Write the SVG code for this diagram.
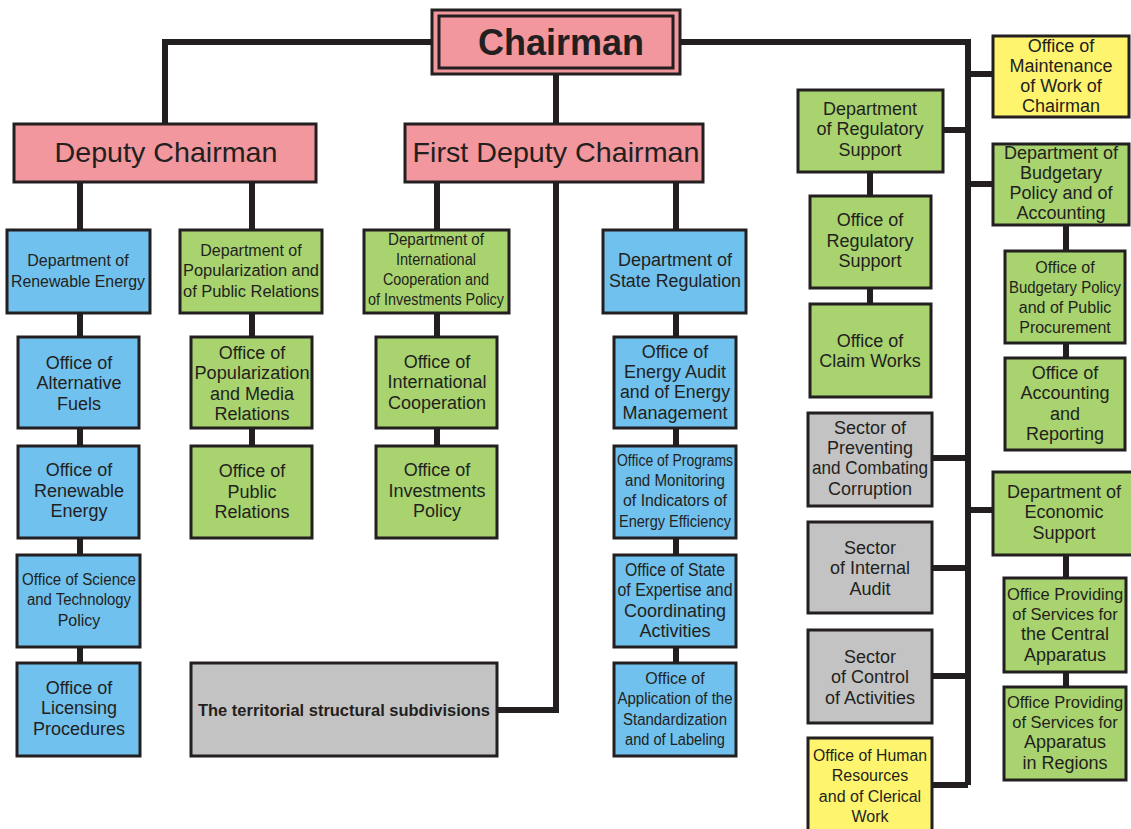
<svg xmlns="http://www.w3.org/2000/svg" width="1131" height="829" viewBox="0 0 1131 829">
<style>
.bx{stroke:#231F20;stroke-width:3}
.pk{fill:#F1979D}.bl{fill:#70C1EE}.gr{fill:#A8D36E}.ye{fill:#FFF46E}.gy{fill:#C3C3C3}
.c{fill:none;stroke:#231F20;stroke-width:6}
text{font-family:"Liberation Sans",Arial,sans-serif;fill:#231F20;text-anchor:middle;font-size:18px}
.n{font-size:16px}
.s{font-size:16.5px}
</style>
<rect width="1131" height="829" fill="#fff"/>
<g id="connectors">
<path class="c" d="M432,42 H165 V124"/>
<path class="c" d="M680,42 H968 V785"/>
<path class="c" d="M556,75 V124"/>
<path class="c" d="M80,182 V663"/>
<path class="c" d="M252,182 V446"/>
<path class="c" d="M437,182 V446"/>
<path class="c" d="M676,182 V663"/>
<path class="c" d="M556,182 V710 H497"/>
<path class="c" d="M968,74 H993 M943,130 H968 M968,184 H993 M932,458 H968 M932,568 H968 M932,676 H968 M932,785 H968 M968,510 H993"/>
<path class="c" d="M870,172 V304"/>
<path class="c" d="M1066,225 V358"/>
<path class="c" d="M1066,555 V687"/>
</g>
<g id="chairman">
<rect class="bx pk" x="432" y="10" width="248" height="64"/>
<rect class="bx pk" x="439" y="16" width="234" height="52"/>
<text x="561" y="55" style="font-size:36px;font-weight:bold">Chairman</text>
</g>
<g id="deputy">
<rect class="bx pk" x="14" y="124" width="302" height="58"/>
<text x="166" y="162" style="font-size:28px" textLength="223" lengthAdjust="spacingAndGlyphs">Deputy Chairman</text>
</g>
<g id="first-deputy">
<rect class="bx pk" x="405" y="124" width="298" height="58"/>
<text x="556" y="162" style="font-size:28px" textLength="287" lengthAdjust="spacingAndGlyphs">First Deputy Chairman</text>
</g>
<g id="dept-renewable">
<rect class="bx bl" x="7" y="230" width="143" height="83"/>
<text class="n"><tspan x="78" y="266">Department of</tspan><tspan x="78" y="287" textLength="134" lengthAdjust="spacingAndGlyphs">Renewable Energy</tspan></text>
</g>
<g id="office-alt-fuels">
<rect class="bx bl" x="18" y="337" width="121" height="91"/>
<text><tspan x="79" y="369">Office of</tspan><tspan x="79" y="389">Alternative</tspan><tspan x="79" y="410">Fuels</tspan></text>
</g>
<g id="office-renewable">
<rect class="bx bl" x="18" y="446" width="121" height="92"/>
<text><tspan x="79" y="476">Office of</tspan><tspan x="79" y="497">Renewable</tspan><tspan x="79" y="517">Energy</tspan></text>
</g>
<g id="office-science">
<rect class="bx bl" x="17" y="555" width="123" height="92"/>
<text class="n"><tspan x="79" y="585" textLength="114" lengthAdjust="spacingAndGlyphs">Office of Science</tspan><tspan x="79" y="605" textLength="104" lengthAdjust="spacingAndGlyphs">and Technology</tspan><tspan x="79" y="626">Policy</tspan></text>
</g>
<g id="office-licensing">
<rect class="bx bl" x="17" y="663" width="123" height="93"/>
<text><tspan x="79" y="694">Office of</tspan><tspan x="79" y="714">Licensing</tspan><tspan x="79" y="735">Procedures</tspan></text>
</g>
<g id="dept-popularization">
<rect class="bx gr" x="180" y="230" width="142" height="83"/>
<text class="n"><tspan x="251" y="256">Department of</tspan><tspan x="251" y="276" textLength="136" lengthAdjust="spacingAndGlyphs">Popularization and</tspan><tspan x="251" y="297" textLength="136" lengthAdjust="spacingAndGlyphs">of Public Relations</tspan></text>
</g>
<g id="office-popularization">
<rect class="bx gr" x="191" y="337" width="121" height="91"/>
<text><tspan x="252" y="359">Office of</tspan><tspan x="252" y="379" textLength="115" lengthAdjust="spacingAndGlyphs">Popularization</tspan><tspan x="252" y="400">and Media</tspan><tspan x="252" y="420">Relations</tspan></text>
</g>
<g id="office-public-relations">
<rect class="bx gr" x="191" y="446" width="121" height="92"/>
<text><tspan x="252" y="477">Office of</tspan><tspan x="252" y="498">Public</tspan><tspan x="252" y="518">Relations</tspan></text>
</g>
<g id="dept-international">
<rect class="bx gr" x="364" y="230" width="145" height="83"/>
<text class="n"><tspan x="436" y="245" textLength="96" lengthAdjust="spacingAndGlyphs">Department  of</tspan><tspan x="436" y="265" textLength="80" lengthAdjust="spacingAndGlyphs">International</tspan><tspan x="436" y="285" textLength="106" lengthAdjust="spacingAndGlyphs">Cooperation and</tspan><tspan x="436" y="305" textLength="136" lengthAdjust="spacingAndGlyphs">of Investments Policy</tspan></text>
</g>
<g id="office-intl-coop">
<rect class="bx gr" x="376" y="337" width="121" height="91"/>
<text><tspan x="437" y="368">Office of</tspan><tspan x="437" y="388">International</tspan><tspan x="437" y="409">Cooperation</tspan></text>
</g>
<g id="office-investments">
<rect class="bx gr" x="376" y="446" width="121" height="92"/>
<text><tspan x="437" y="476">Office of</tspan><tspan x="437" y="497">Investments</tspan><tspan x="437" y="517">Policy</tspan></text>
</g>
<g id="territorial">
<rect class="bx gy" x="191" y="663" width="306" height="93"/>
<text x="344" y="716" style="font-size:16px;font-weight:bold" textLength="292" lengthAdjust="spacingAndGlyphs">The territorial structural subdivisions</text>
</g>
<g id="dept-state-regulation">
<rect class="bx bl" x="603" y="230" width="143" height="83"/>
<text><tspan x="675" y="266">Department of</tspan><tspan x="675" y="287" textLength="132" lengthAdjust="spacingAndGlyphs">State Regulation</tspan></text>
</g>
<g id="office-energy-audit">
<rect class="bx bl" x="614" y="337" width="122" height="91"/>
<text><tspan x="675" y="358">Office of</tspan><tspan x="675" y="378">Energy Audit</tspan><tspan x="675" y="398" textLength="110" lengthAdjust="spacingAndGlyphs">and of Energy</tspan><tspan x="675" y="419">Management</tspan></text>
</g>
<g id="office-programs">
<rect class="bx bl" x="614" y="446" width="122" height="92"/>
<text class="n"><tspan x="675" y="466" textLength="116" lengthAdjust="spacingAndGlyphs">Office of Programs</tspan><tspan x="675" y="486" textLength="100" lengthAdjust="spacingAndGlyphs">and Monitoring</tspan><tspan x="675" y="506" textLength="104" lengthAdjust="spacingAndGlyphs">of Indicators of</tspan><tspan x="675" y="527" textLength="112" lengthAdjust="spacingAndGlyphs">Energy Efficiency</tspan></text>
</g>
<g id="office-state-expertise">
<rect class="bx bl" x="614" y="555" width="122" height="92"/>
<text><tspan x="675" y="576" textLength="100" lengthAdjust="spacingAndGlyphs">Office of State</tspan><tspan x="675" y="596" textLength="115" lengthAdjust="spacingAndGlyphs">of Expertise and</tspan><tspan x="675" y="617">Coordinating</tspan><tspan x="675" y="637">Activities</tspan></text>
</g>
<g id="office-application">
<rect class="bx bl" x="614" y="663" width="122" height="93"/>
<text class="n"><tspan x="675" y="684">Office of</tspan><tspan x="675" y="704" textLength="115" lengthAdjust="spacingAndGlyphs">Application of the</tspan><tspan x="675" y="725" textLength="104" lengthAdjust="spacingAndGlyphs">Standardization</tspan><tspan x="675" y="745" textLength="100" lengthAdjust="spacingAndGlyphs">and of Labeling</tspan></text>
</g>
<g id="dept-regulatory-support">
<rect class="bx gr" x="798" y="90" width="145" height="82"/>
<text><tspan x="870" y="115">Department</tspan><tspan x="870" y="135">of Regulatory</tspan><tspan x="870" y="156">Support</tspan></text>
</g>
<g id="office-regulatory-support">
<rect class="bx gr" x="810" y="196" width="121" height="92"/>
<text><tspan x="870" y="226">Office  of</tspan><tspan x="870" y="247">Regulatory</tspan><tspan x="870" y="267">Support</tspan></text>
</g>
<g id="office-claim-works">
<rect class="bx gr" x="810" y="304" width="121" height="93"/>
<text><tspan x="870" y="347">Office of</tspan><tspan x="870" y="367">Claim Works</tspan></text>
</g>
<g id="sector-corruption">
<rect class="bx gy" x="808" y="413" width="124" height="93"/>
<text><tspan x="870" y="434">Sector of</tspan><tspan x="870" y="454">Preventing</tspan><tspan x="870" y="474" textLength="116" lengthAdjust="spacingAndGlyphs">and Combating</tspan><tspan x="870" y="495">Corruption</tspan></text>
</g>
<g id="sector-internal-audit">
<rect class="bx gy" x="808" y="522" width="124" height="91"/>
<text><tspan x="870" y="554">Sector</tspan><tspan x="870" y="574">of Internal</tspan><tspan x="870" y="595">Audit</tspan></text>
</g>
<g id="sector-control">
<rect class="bx gy" x="808" y="630" width="124" height="93"/>
<text><tspan x="870" y="663">Sector</tspan><tspan x="870" y="683">of  Control</tspan><tspan x="870" y="704">of Activities</tspan></text>
</g>
<g id="office-hr">
<rect class="bx ye" x="808" y="738" width="124" height="95"/>
<text class="n"><tspan x="870" y="761" textLength="114" lengthAdjust="spacingAndGlyphs">Office of Human</tspan><tspan x="870" y="781">Resources</tspan><tspan x="870" y="802">and of Clerical</tspan><tspan x="870" y="822">Work</tspan></text>
</g>
<g id="office-maintenance">
<rect class="bx ye" x="993" y="36" width="136" height="81"/>
<text><tspan x="1061" y="52">Office of</tspan><tspan x="1061" y="72">Maintenance</tspan><tspan x="1061" y="92">of Work of</tspan><tspan x="1061" y="112">Chairman</tspan></text>
</g>
<g id="dept-budgetary">
<rect class="bx gr" x="993" y="144" width="136" height="81"/>
<text><tspan x="1061" y="159">Department of</tspan><tspan x="1061" y="179">Budgetary</tspan><tspan x="1061" y="199">Policy and of</tspan><tspan x="1061" y="219">Accounting</tspan></text>
</g>
<g id="office-budgetary">
<rect class="bx gr" x="1005" y="251" width="120" height="92"/>
<text class="n"><tspan x="1065" y="273">Office of</tspan><tspan x="1065" y="293" textLength="112" lengthAdjust="spacingAndGlyphs">Budgetary Policy</tspan><tspan x="1065" y="313">and of Public</tspan><tspan x="1065" y="333">Procurement</tspan></text>
</g>
<g id="office-accounting">
<rect class="bx gr" x="1005" y="358" width="120" height="92"/>
<text><tspan x="1065" y="379">Office of</tspan><tspan x="1065" y="399">Accounting</tspan><tspan x="1065" y="420">and</tspan><tspan x="1065" y="440">Reporting</tspan></text>
</g>
<g id="dept-economic">
<rect class="bx gr" x="993" y="472" width="140" height="83"/>
<text><tspan x="1064" y="498">Department of</tspan><tspan x="1064" y="518">Economic</tspan><tspan x="1064" y="539">Support</tspan></text>
</g>
<g id="office-central">
<rect class="bx gr" x="1004" y="578" width="122" height="94"/>
<text><tspan class="s" x="1065" y="600">Office Providing</tspan><tspan class="s" x="1065" y="620">of Services  for</tspan><tspan x="1065" y="640">the Central</tspan><tspan x="1065" y="661">Apparatus</tspan></text>
</g>
<g id="office-regions">
<rect class="bx gr" x="1004" y="687" width="122" height="93"/>
<text><tspan class="s" x="1065" y="708">Office Providing</tspan><tspan class="s" x="1065" y="728">of Services for</tspan><tspan x="1065" y="748">Apparatus</tspan><tspan x="1065" y="769">in Regions</tspan></text>
</g>
</svg>
